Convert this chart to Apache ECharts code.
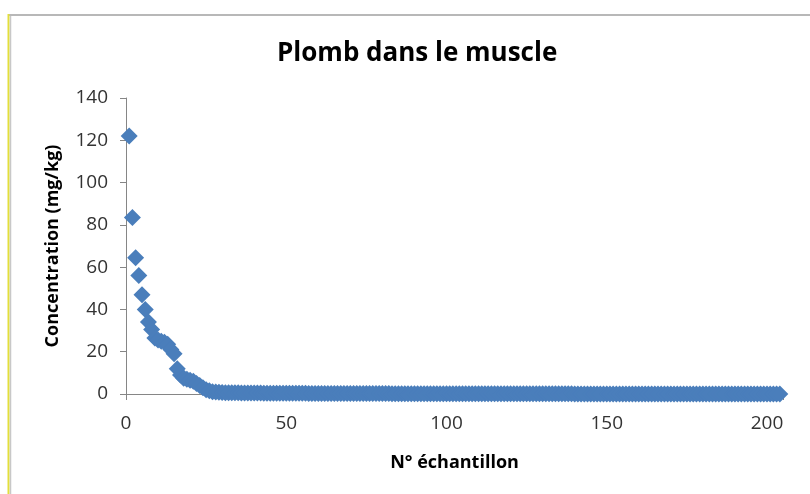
<!DOCTYPE html>
<html>
<head>
<meta charset="utf-8">
<script src="https://cdn.jsdelivr.net/npm/echarts@6/dist/echarts.min.js"></script>
<style>
html, body { margin: 0; padding: 0; background: #fff; }
#chart { width: 810px; height: 494px; }
</style>
</head>
<body>
<div id="chart"></div>
<script>
// concentrations, échantillons 1..204
var concentration = [
  122, 83.5, 64.5, 56, 47, 40, 34, 30.5, 26.5, 25.5,
  25, 24.5, 23.5, 21, 19, 12, 9, 7.5, 7, 6.5,
  6, 5, 4, 3, 2, 1.5, 1.1, 0.9, 0.8, 0.7,
  0.65, 0.6, 0.6, 0.55, 0.55, 0.5, 0.5, 0.5, 0.48, 0.45,
  0.45, 0.42, 0.4, 0.4, 0.4, 0.38, 0.36, 0.35, 0.35, 0.34,
  0.33, 0.32, 0.32, 0.3, 0.3, 0.3, 0.29, 0.28, 0.28, 0.27,
  0.26, 0.26, 0.25, 0.25, 0.25, 0.24, 0.24, 0.23, 0.23, 0.22,
  0.22, 0.21, 0.21, 0.2, 0.2, 0.2, 0.2, 0.19, 0.19, 0.18,
  0.18, 0.18, 0.17, 0.17, 0.17, 0.16, 0.16, 0.16, 0.15, 0.15,
  0.15, 0.15, 0.14, 0.14, 0.14, 0.13, 0.13, 0.13, 0.13, 0.12,
  0.12, 0.12, 0.12, 0.11, 0.11, 0.11, 0.11, 0.1, 0.1, 0.1,
  0.1, 0.1, 0.1, 0.09, 0.09, 0.09, 0.09, 0.09, 0.08, 0.08,
  0.08, 0.08, 0.08, 0.08, 0.07, 0.07, 0.07, 0.07, 0.07, 0.07,
  0.07, 0.06, 0.06, 0.06, 0.06, 0.06, 0.06, 0.06, 0.06, 0.05,
  0.05, 0.05, 0.05, 0.05, 0.05, 0.05, 0.05, 0.05, 0.05, 0.04,
  0.04, 0.04, 0.04, 0.04, 0.04, 0.04, 0.04, 0.04, 0.04, 0.04,
  0.04, 0.04, 0.04, 0.04, 0.03, 0.03, 0.03, 0.03, 0.03, 0.03,
  0.03, 0.03, 0.03, 0.03, 0.03, 0.03, 0.03, 0.03, 0.03, 0.03,
  0.03, 0.03, 0.02, 0.02, 0.02, 0.02, 0.02, 0.02, 0.02, 0.02,
  0.02, 0.02, 0.02, 0.02, 0.02, 0.02, 0.02, 0.02, 0.02, 0.02,
  0.02, 0.01, 0.01, 0.01
];
var xTicks = [0, 50, 100, 150, 200];
var yTicks = [0, 20, 40, 60, 80, 100, 120, 140];

var points = [];
for (var i = 0; i < concentration.length; i++) {
  points.push([i + 1, concentration[i]]);
}

var chart = echarts.init(document.getElementById('chart'));
var txt = '#333333';
var font = '"Open Sans", "DejaVu Sans", sans-serif';

var option = {
  animation: false,
  backgroundColor: '#fff',
  textStyle: { fontFamily: font },
  title: {
    text: 'Plomb dans le muscle',
    left: 277,
    top: 41,
    padding: 0,
    textStyle: { fontSize: 26, fontWeight: 'bold', color: '#000', fontFamily: font }
  },
  graphic: [
    { type: 'line', shape: { x1: 8, y1: 15, x2: 810, y2: 15 }, style: { stroke: '#b8b8b8', lineWidth: 2 } },
    { type: 'line', shape: { x1: 8.5, y1: 14, x2: 8.5, y2: 494 }, style: { stroke: '#e3df3c', lineWidth: 2 } },
    { type: 'line', shape: { x1: 10.5, y1: 16, x2: 10.5, y2: 494 }, style: { stroke: '#c8c8c8', lineWidth: 1.5 } }
  ],
  grid: { left: 126, right: 27, top: 98, bottom: 100 },
  xAxis: {
    type: 'value',
    min: 0,
    max: 205,
    interval: 50,
    name: 'N° échantillon',
    nameLocation: 'middle',
    nameGap: 60,
    nameTextStyle: { fontSize: 18, fontWeight: 'bold', color: '#000', fontFamily: font },
    axisLine: { lineStyle: { color: '#868686', width: 1 } },
    axisTick: { show: true, inside: false, length: 6, lineStyle: { color: '#868686' } },
    axisLabel: {
      fontSize: 19, color: txt, margin: 20,
      formatter: function (v) { return xTicks.indexOf(v) >= 0 ? String(v) : ''; }
    },
    splitLine: { show: false }
  },
  yAxis: {
    type: 'value',
    min: 0,
    max: 140,
    interval: 20,
    name: 'Concentration (mg/kg)',
    nameLocation: 'middle',
    nameGap: 64,
    nameTextStyle: { fontSize: 18, fontWeight: 'bold', color: '#000', fontFamily: font },
    axisLine: { show: true, lineStyle: { color: '#868686', width: 1 } },
    axisTick: { show: true, inside: false, length: 6, lineStyle: { color: '#868686' } },
    axisLabel: {
      fontSize: 19, color: txt, margin: 18,
      formatter: function (v) { return yTicks.indexOf(v) >= 0 ? String(v) : ''; }
    },
    splitLine: { show: false }
  },
  series: [
    {
      type: 'scatter',
      data: points,
      symbol: 'diamond',
      symbolSize: 17,
      clip: false,
      itemStyle: { color: '#4a7ebb', opacity: 1 }
    }
  ]
};
chart.setOption(option);
</script>
</body>
</html>
